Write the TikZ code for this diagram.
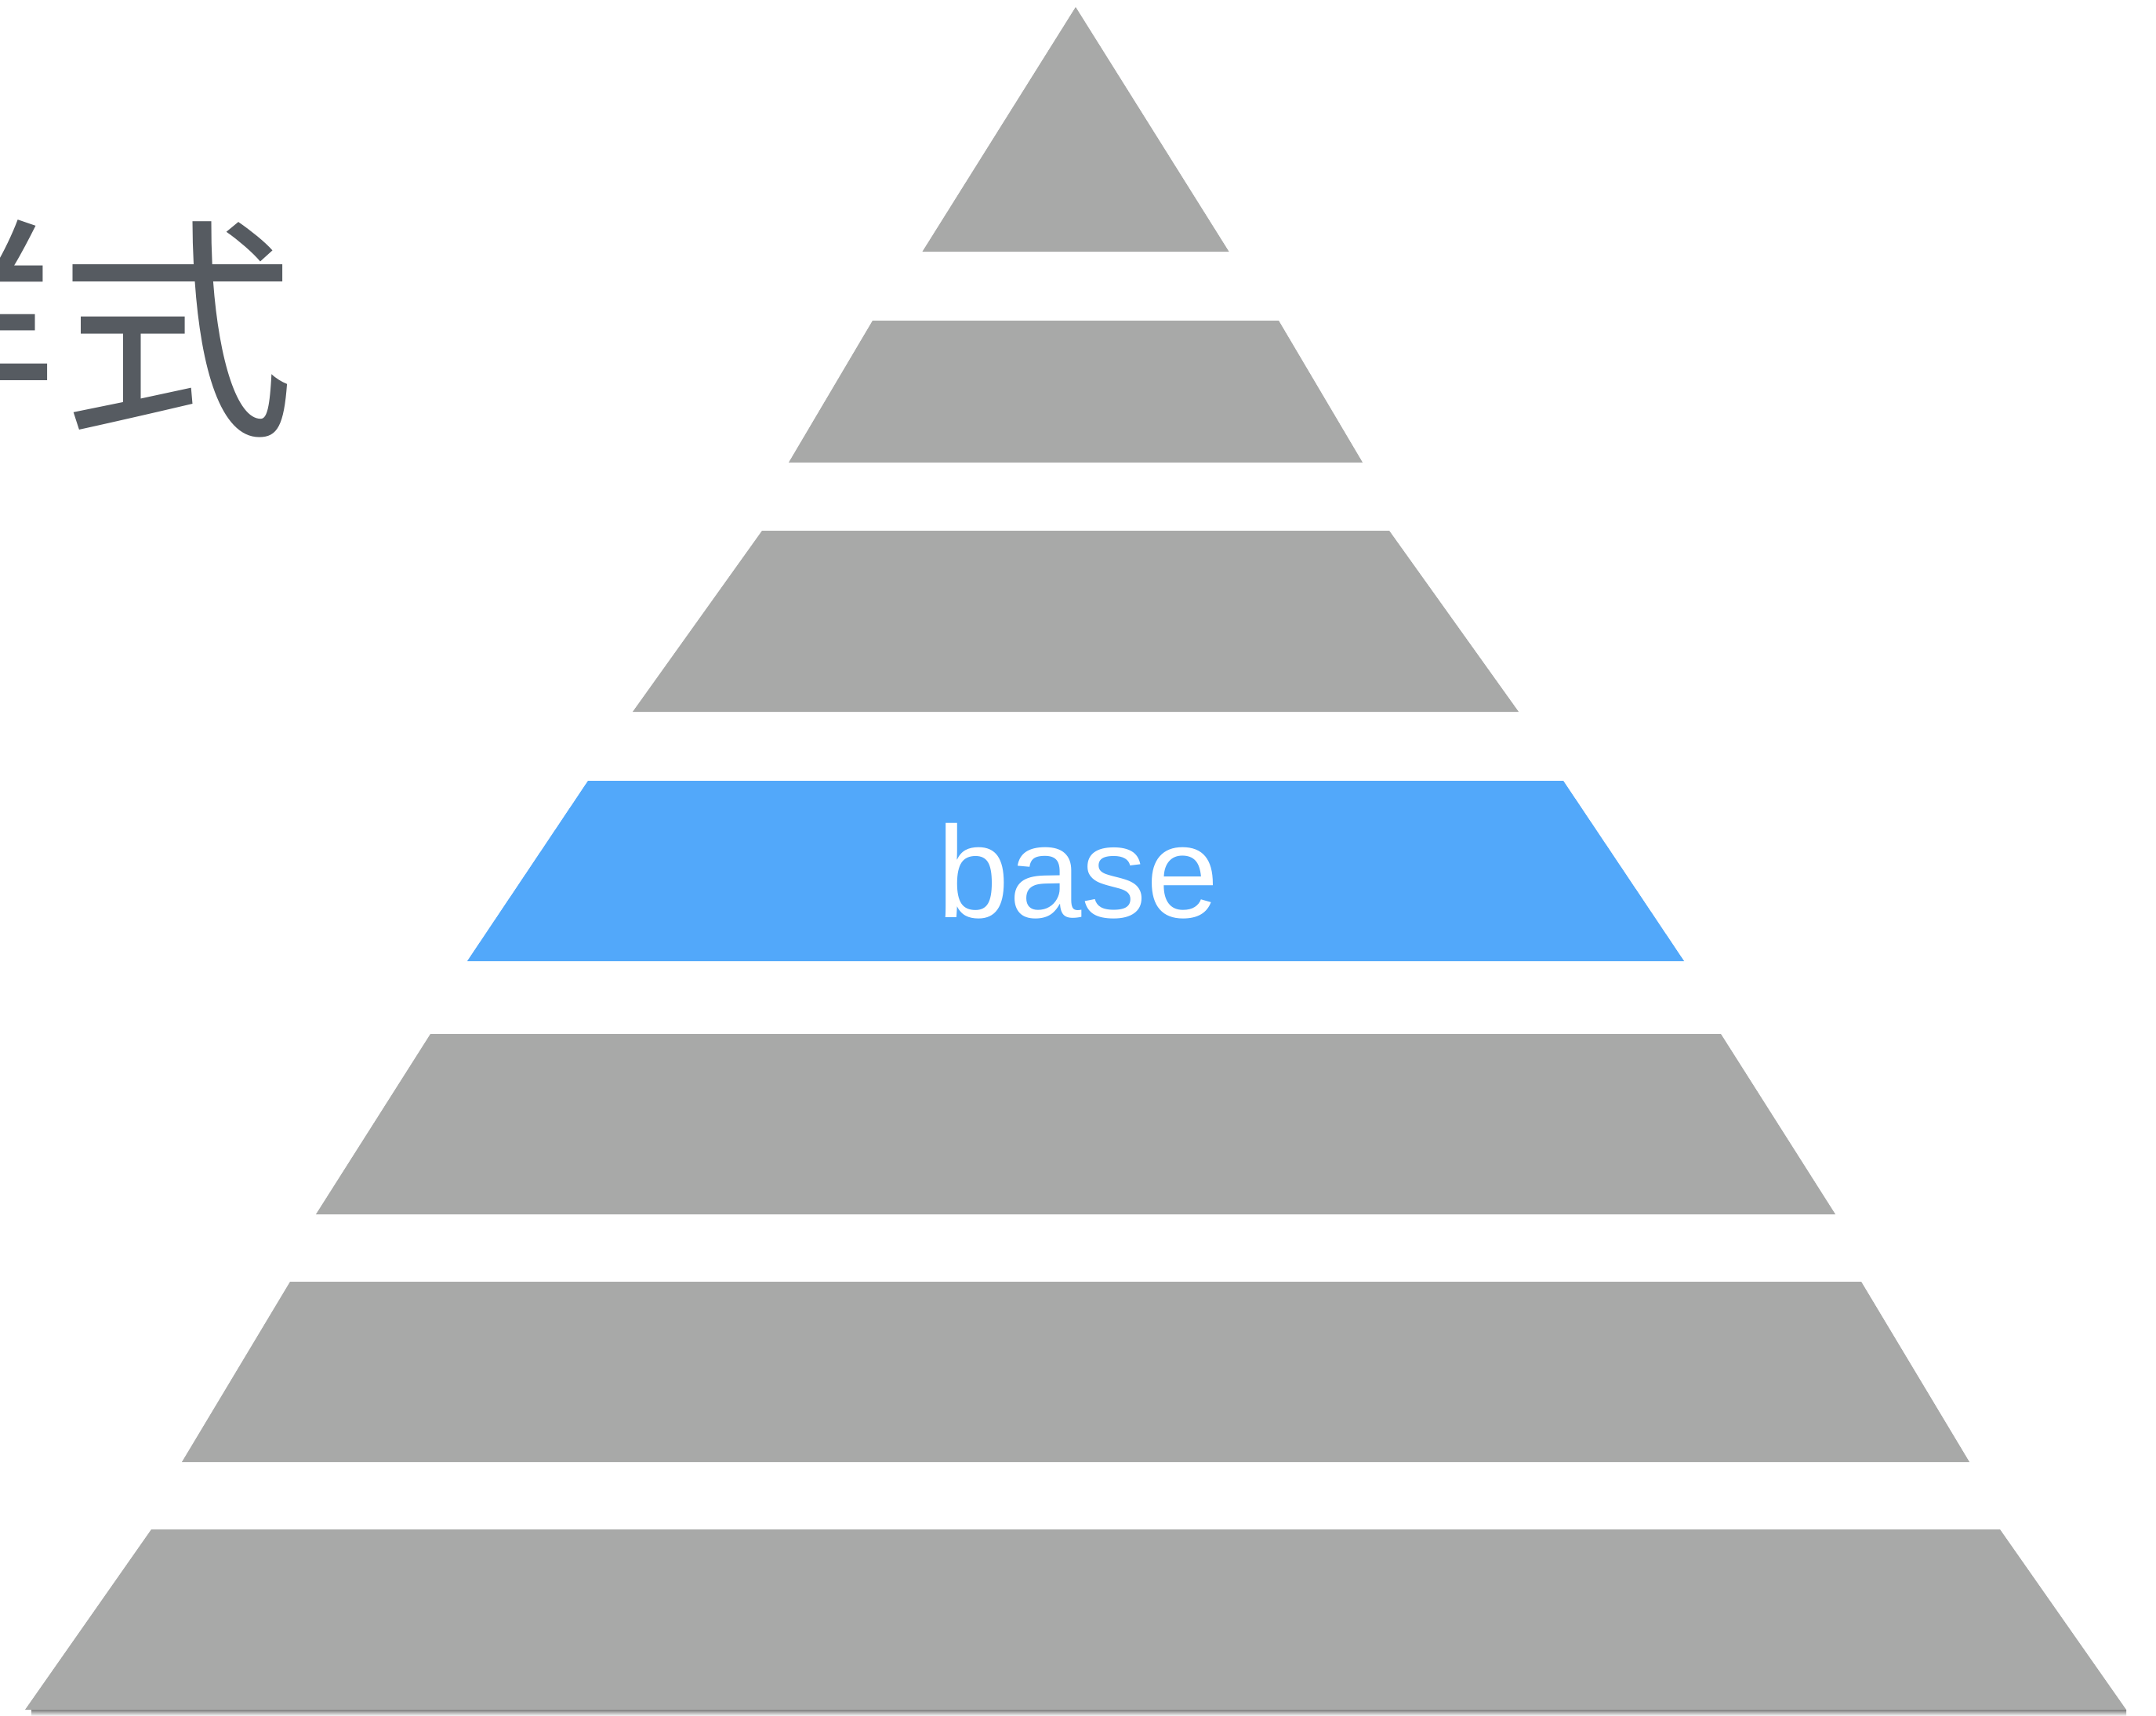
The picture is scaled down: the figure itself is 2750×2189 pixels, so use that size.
\documentclass[tikz,border=0pt]{standalone}
\usepackage{fontspec}
\setmainfont{Liberation Sans}
\newfontfamily\cjk{Noto Sans CJK SC}
\definecolor{tiergray}{HTML}{A8A9A8}
\definecolor{tierblue}{HTML}{52A8FA}
\definecolor{titlegray}{HTML}{565B61}
\definecolor{shade}{HTML}{E6E6E6}
\begin{document}
\begin{tikzpicture}[x=1pt,y=-1pt,
  tier/.style={fill=tiergray,draw=none},
  hitier/.style={fill=tierblue,draw=none}]
\useasboundingbox (0,0) rectangle (2750,2189);
\fill[white] (0,0) rectangle (2750,2189);
% bottom shadow
\fill[shade] (40,2181) rectangle (2712,2189);
% tiers (centre x = 1372)
\path[tier] (1372,9) -- (1567.5,321) -- (1176.5,321) -- cycle;
\path[tier] (1372-259,409) -- (1372+259,409) -- (1372+366,590) -- (1372-366,590) -- cycle;
\path[tier] (1372-400,677) -- (1372+400,677) -- (1372+565,908) -- (1372-565,908) -- cycle;
\path[hitier] (1372-622,996) -- (1372+622,996) -- (1372+776,1226) -- (1372-776,1226) -- cycle;
\path[tier] (1372-823,1319) -- (1372+823,1319) -- (1372+969,1549) -- (1372-969,1549) -- cycle;
\path[tier] (1372-1002,1635) -- (1372+1002,1635) -- (1372+1140,1865) -- (1372-1140,1865) -- cycle;
\path[tier] (1372-1179,1951) -- (1372+1179,1951) -- (1372+1340,2181) -- (1372-1340,2181) -- cycle;
% labels
\node[text=white,inner sep=0pt,anchor=base,font=\fontsize{166}{166}\selectfont] (base) at (1375,1170) {base};
\node[text=titlegray,inner sep=0pt,anchor=base east,font=\cjk\fontsize{300}{300}\selectfont] (title) at (377,533) {样式};
\end{tikzpicture}
\end{document}
